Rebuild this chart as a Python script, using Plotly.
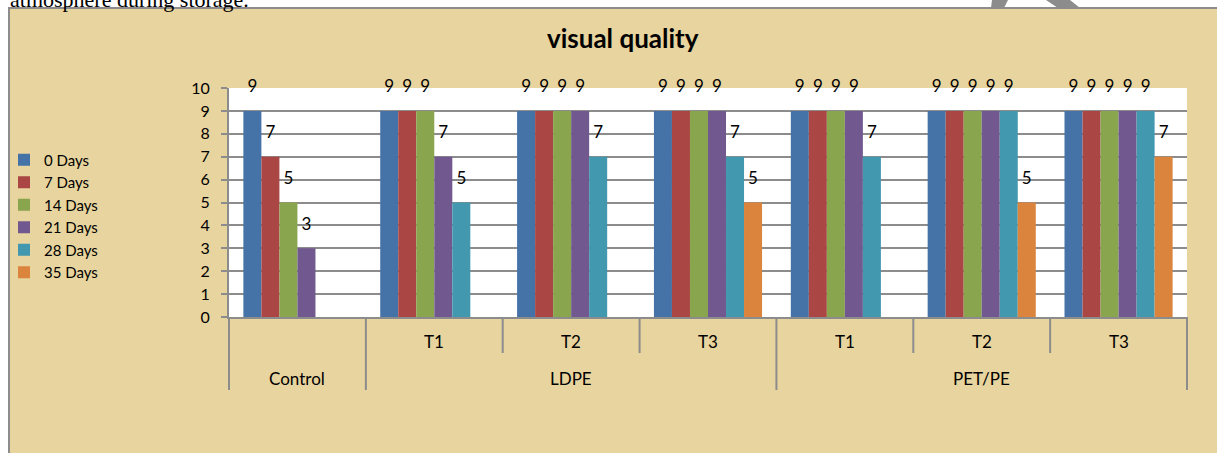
import plotly.graph_objects as go

# ---- data ----
outer = ["Control", "LDPE", "LDPE", "LDPE", "PET/PE", "PET/PE", "PET/PE"]
inner = [" ", "T1", "T2", "T3", "T1", "T2", "T3"]
series_names = ["0 Days", "7 Days", "14 Days", "21 Days", "28 Days", "35 Days"]
d0 = [9, 9, 9, 9, 9, 9, 9]
d7 = [7, 9, 9, 9, 9, 9, 9]
d14 = [5, 9, 9, 9, 9, 9, 9]
d21 = [3, 7, 9, 9, 9, 9, 9]
d28 = [None, 5, 7, 7, 7, 9, 9]
d35 = [None, None, None, 5, None, 5, 7]
series_values = [d0, d7, d14, d21, d28, d35]
colors = ["#4572A7", "#AA4643", "#89A54E", "#71588F", "#4198AF", "#DB843D"]

W, H = 1217, 453
L, R, T, B = 229, 1187, 88, 317  # plot area in pixels

def px(x):
    return (x - L) / (R - L)

def py(y):
    return (B - y) / (B - T)

FONT = "Lato, 'Open Sans', sans-serif"
GRAY = "#8C8C8C"
BARGAP = 0.21
n_cat = len(outer)
n_ser = len(series_names)
slot = (1 - BARGAP) / n_ser

fig = go.Figure()
for name, vals, col in zip(series_names, series_values, colors):
    fig.add_trace(go.Bar(
        x=[outer, inner], y=vals, name=name,
        marker=dict(color=col, line=dict(width=0)),
    ))

# data labels: one unit above each bar (as in the source chart), on an overlay numeric axis
for j, vals in enumerate(series_values):
    xs, ys, ts = [], [], []
    for i, v in enumerate(vals):
        if v is None:
            continue
        xs.append(i - (1 - BARGAP) / 2 + (j + 0.5) * slot)
        ys.append(v + 1)
        ts.append(str(v))
    fig.add_trace(go.Scatter(
        x=xs, y=ys, text=ts, mode="text", xaxis="x2", showlegend=False,
        textposition="middle center", hoverinfo="skip", cliponaxis=False,
        textfont=dict(family=FONT, size=17, color="#000000"),
    ))

shapes = [
    # chart box
    dict(type="rect", xref="paper", yref="paper",
         x0=px(9), x1=px(1240), y0=py(8), y1=py(470),
         fillcolor="#E8D49E", line=dict(color=GRAY, width=2), layer="below"),
    # plot area background
    dict(type="rect", xref="paper", yref="paper",
         x0=0, x1=1, y0=0, y1=1,
         fillcolor="#FFFFFF", line=dict(width=0), layer="below"),
    # watermark fragments
    dict(type="path", xref="paper", yref="paper",
         path=f"M {px(992)} {py(0)} L {px(1008)} {py(0)} L {px(1004)} {py(8)} L {px(991)} {py(8)} Z",
         fillcolor=GRAY, line=dict(width=0)),
    dict(type="path", xref="paper", yref="paper",
         path=f"M {px(1046)} {py(0)} L {px(1070)} {py(0)} L {px(1080)} {py(8)} L {px(1058)} {py(8)} Z",
         fillcolor=GRAY, line=dict(width=0)),
]

# category boundary lines (long at outer-group boundaries, short at inner boundaries)
for b in range(n_cat + 1):
    is_outer = b == 0 or b == n_cat or outer[b] != outer[b - 1]
    shapes.append(dict(type="line", xref="paper", yref="paper",
                       x0=b / n_cat, x1=b / n_cat, y0=py(317), y1=py(390 if is_outer else 353),
                       line=dict(color=GRAY, width=2)))

annotations = [
    dict(text="<b>visual quality</b>", xref="paper", yref="paper",
         x=px(623), y=py(38), xanchor="center", yanchor="middle", showarrow=False,
         font=dict(family=FONT, size=26, color="#000000")),
    dict(text="atmosphere during storage.", xref="paper", yref="paper",
         x=px(8), y=py(-1), xanchor="left", yanchor="middle", showarrow=False,
         font=dict(family="'Liberation Serif', serif", size=22, color="#000000")),
]
# inner labels
for i, lab in enumerate(inner):
    if lab.strip():
        annotations.append(dict(text=lab, xref="paper", yref="paper",
                                x=(i + 0.5) / n_cat, y=py(341), xanchor="center", yanchor="middle",
                                showarrow=False, font=dict(family=FONT, size=17, color="#000000")))
# outer labels
groups = []
for i, o in enumerate(outer):
    if groups and groups[-1][0] == o:
        groups[-1][2] = i
    else:
        groups.append([o, i, i])
for o, a, b in groups:
    annotations.append(dict(text=o, xref="paper", yref="paper",
                            x=(a + b + 1) / 2 / n_cat, y=py(378), xanchor="center", yanchor="middle",
                            showarrow=False, font=dict(family=FONT, size=17, color="#000000")))

fig.update_layout(
    width=W, height=H,
    margin=dict(l=L, r=W - R, t=T, b=H - B, pad=0, autoexpand=False),
    paper_bgcolor="#FFFFFF",
    plot_bgcolor="rgba(0,0,0,0)",
    barmode="group", bargap=BARGAP, bargroupgap=0,
    shapes=shapes, annotations=annotations,
    showlegend=True,
    legend=dict(x=px(4), y=py(216), xanchor="left", yanchor="middle",
                bgcolor="rgba(0,0,0,0)", font=dict(family=FONT, size=15, color="#000000"),
                tracegroupgap=0, itemwidth=30),
    font=dict(family=FONT, size=16, color="#000000"),
    xaxis2=dict(overlaying="x", range=[-0.5, n_cat - 0.5], visible=False, fixedrange=True),
)

fig.update_yaxes(range=[0, 10], dtick=1, showgrid=True, gridcolor=GRAY, gridwidth=2,
                 showline=True, linecolor=GRAY, linewidth=2,
                 ticks="outside", ticklen=6, tickcolor=GRAY, tickwidth=2, ticklabelstandoff=8,
                 tickfont=dict(family=FONT, size=16, color="#000000"), zeroline=False)
fig.layout.xaxis.update(type="multicategory", showline=True, linecolor=GRAY, linewidth=2,
                        ticks="", showticklabels=False, showdividers=False)

fig.write_html("out.html")
